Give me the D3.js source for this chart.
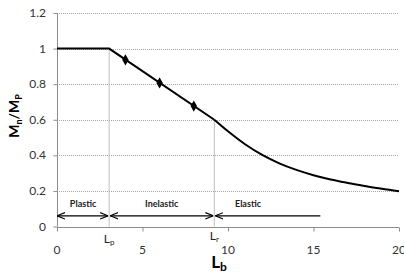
<!DOCTYPE html>
<html>
<head>
<meta charset="utf-8">
<script src="https://cdn.jsdelivr.net/npm/d3@7"></script>
<style>
  body { margin: 0; background: #fff; }
  text { font-family: Lato, "Open Sans", sans-serif; }
</style>
</head>
<body>
<div class="chart"></div>
<script>
// Curve data: plastic / inelastic (straight) and elastic (curved)
var lbLinear = [0, 3.05, 9.2];
var mLinear = [1, 1, 0.6];
var lbElastic = [9.2, 10, 11, 12, 13, 14, 15, 16, 17, 18, 19, 20];
var mElastic = [0.6, 0.535, 0.462, 0.402, 0.355, 0.318, 0.288, 0.264, 0.245, 0.228, 0.212, 0.198];

// Diamond markers on the inelastic line
var markerLb = [4, 6, 8];
var markerM = [0.937, 0.807, 0.677];

// Zone arrows
var zoneNames = ["Plastic", "Inelastic", "Elastic"];
var zoneStart = [0, 3.05, 9.2];
var zoneEnd = [3.05, 9.2, 15.4];
var zoneY = 0.06;

var xTicks = [0, 5, 10, 15, 20];
var yTicks = [0, 0.2, 0.4, 0.6, 0.8, 1, 1.2];

var width = 404, height = 276;
var svg = d3.select(".chart").append("svg")
    .attr("width", width)
    .attr("height", height);

var x = d3.scaleLinear().domain([0, 20]).range([57, 399]);
var y = d3.scaleLinear().domain([0, 1.2]).range([226.5, 13]);

// Arrowhead markers
var defs = svg.append("defs");
defs.append("marker")
    .attr("id", "head")
    .attr("viewBox", "0 0 10 10")
    .attr("refX", 10).attr("refY", 5)
    .attr("markerWidth", 8).attr("markerHeight", 8)
    .attr("markerUnits", "userSpaceOnUse")
    .attr("orient", "auto-start-reverse")
  .append("path")
    .attr("d", "M0,1 L10,5 L0,9")
    .attr("fill", "none")
    .attr("stroke", "#000")
    .attr("stroke-width", 1.4);

// Horizontal dotted gridlines
svg.append("g")
    .selectAll("line")
    .data(yTicks.filter(function(d) { return d > 0; }))
    .join("line")
    .attr("x1", x(0)).attr("x2", x(20))
    .attr("y1", function(d) { return Math.round(y(d)) + 0.5; })
    .attr("y2", function(d) { return Math.round(y(d)) + 0.5; })
    .attr("stroke", "#a6a6a6")
    .attr("stroke-dasharray", "1,1");

// Vertical lines at Lp and Lr
svg.append("line")
    .attr("x1", x(3.05)).attr("x2", x(3.05))
    .attr("y1", y(0)).attr("y2", y(1))
    .attr("stroke", "#bfbfbf");
svg.append("line")
    .attr("x1", x(9.2)).attr("x2", x(9.2))
    .attr("y1", y(0)).attr("y2", y(0.6))
    .attr("stroke", "#bfbfbf");

// Axes
var xAxis = svg.append("g")
    .attr("transform", "translate(0," + (Math.round(y(0)) + 0.5) + ")")
    .call(d3.axisBottom(x).tickValues(xTicks).tickSize(4).tickFormat(""));
var yAxis = svg.append("g")
    .attr("transform", "translate(" + (Math.round(x(0)) + 0.5) + ",0)")
    .call(d3.axisLeft(y).tickValues(yTicks).tickSize(4).tickFormat(""));
svg.selectAll(".domain").attr("stroke", "#8c8c8c");
svg.selectAll(".tick line").attr("stroke", "#8c8c8c");
xAxis.select(".domain").attr("d", "M" + x(0) + ",0H" + x(20));
yAxis.select(".domain").attr("d", "M0," + y(0) + "V" + y(1.2));

// Tick labels
svg.append("g")
    .selectAll("text")
    .data(xTicks)
    .join("text")
    .attr("x", function(d) { return x(d); })
    .attr("y", 254)
    .attr("text-anchor", "middle")
    .attr("font-size", 12)
    .attr("fill", "#333")
    .text(function(d) { return d; });
svg.append("g")
    .selectAll("text")
    .data(yTicks)
    .join("text")
    .attr("x", 46)
    .attr("y", function(d) { return y(d) + 4; })
    .attr("text-anchor", "end")
    .attr("font-size", 12)
    .attr("fill", "#333")
    .text(function(d) { return d; });

// Lp / Lr labels
var lpLabel = svg.append("text")
    .attr("x", x(3.05)).attr("y", 243)
    .attr("text-anchor", "middle")
    .attr("font-size", 12)
    .attr("fill", "#222");
lpLabel.append("tspan").text("L");
lpLabel.append("tspan").attr("dy", 2).attr("font-size", 8).text("p");
var lrLabel = svg.append("text")
    .attr("x", x(9.2)).attr("y", 240)
    .attr("text-anchor", "middle")
    .attr("font-size", 12)
    .attr("fill", "#222");
lrLabel.append("tspan").text("L");
lrLabel.append("tspan").attr("dy", 2).attr("font-size", 8).text("r");

// Axis titles
var xTitle = svg.append("text")
    .attr("x", 219).attr("y", 268)
    .attr("text-anchor", "middle")
    .attr("font-size", 17)
    .attr("font-weight", "bold")
    .attr("fill", "#000");
xTitle.append("tspan").text("L");
xTitle.append("tspan").attr("dy", 3).attr("font-size", 12).text("b");

var yTitle = svg.append("text")
    .attr("transform", "translate(19,116) rotate(-90)")
    .attr("text-anchor", "middle")
    .attr("font-size", 14)
    .attr("font-weight", "bold")
    .attr("fill", "#000");
yTitle.append("tspan").text("M");
yTitle.append("tspan").attr("dy", 3).attr("font-size", 9).text("n");
yTitle.append("tspan").attr("dy", -3).text("/M");
yTitle.append("tspan").attr("dy", 3).attr("font-size", 9).text("P");

// Capacity curve
var line = d3.line()
    .x(function(d) { return x(d[0]); })
    .y(function(d) { return y(d[1]); });
svg.append("path")
    .datum(d3.zip(lbLinear, mLinear))
    .attr("d", line)
    .attr("fill", "none")
    .attr("stroke", "#000")
    .attr("stroke-width", 2);
svg.append("path")
    .datum(d3.zip(lbElastic, mElastic))
    .attr("d", line.curve(d3.curveMonotoneX))
    .attr("fill", "none")
    .attr("stroke", "#000")
    .attr("stroke-width", 2);

// Diamond markers
svg.append("g")
    .selectAll("path")
    .data(d3.zip(markerLb, markerM))
    .join("path")
    .attr("transform", function(d) { return "translate(" + x(d[0]) + "," + y(d[1]) + ")"; })
    .attr("d", d3.symbol(d3.symbolDiamond, 36))
    .attr("fill", "#000");

// Zone arrows and labels
var zones = d3.range(zoneNames.length);
svg.append("g")
    .selectAll("line")
    .data(zones)
    .join("line")
    .attr("x1", function(i) { return x(zoneStart[i]) + (i === 0 ? 0 : 1); })
    .attr("x2", function(i) { return x(zoneEnd[i]) - (i === 2 ? 0 : 1); })
    .attr("y1", y(zoneY)).attr("y2", y(zoneY))
    .attr("stroke", "#000")
    .attr("stroke-width", 1.4)
    .attr("marker-start", "url(#head)")
    .attr("marker-end", function(i) { return i === 2 ? null : "url(#head)"; });
svg.append("g")
    .selectAll("text")
    .data(zones)
    .join("text")
    .attr("x", function(i) { return i === 2 ? 248 : (x(zoneStart[i]) + x(zoneEnd[i])) / 2; })
    .attr("y", 207)
    .attr("text-anchor", "middle")
    .attr("font-size", 9)
    .attr("font-weight", "bold")
    .attr("fill", "#222")
    .text(function(i) { return zoneNames[i]; });
</script>
</body>
</html>
